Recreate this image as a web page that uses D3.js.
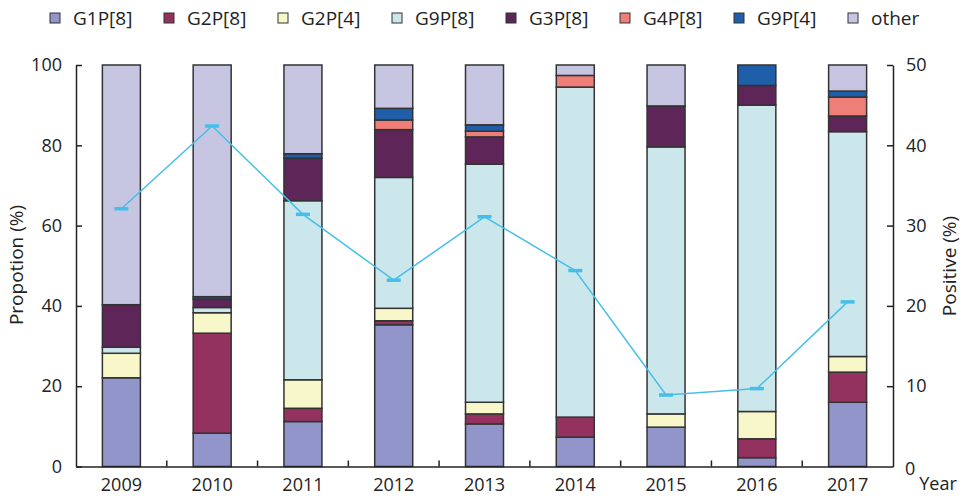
<!DOCTYPE html>
<html>
<head>
<meta charset="utf-8">
<script src="https://cdn.jsdelivr.net/npm/d3@7"></script>
<style>
  body { margin: 0; background: #fff; }
  text { font-family: "Open Sans", "DejaVu Sans", sans-serif; fill: #222; }
</style>
</head>
<body>
<svg width="961" height="497"></svg>
<script>
var years = ["2009", "2010", "2011", "2012", "2013", "2014", "2015", "2016", "2017"];
var genotypes = ["G1P[8]", "G2P[8]", "G2P[4]", "G9P[8]", "G3P[8]", "G4P[8]", "G9P[4]", "other"];
var colors = ["#9195c9", "#93325e", "#f8f7c9", "#cce7ec", "#5d2558", "#ef7d78", "#1f5faa", "#c7c6e2"];

// proportion (%) of each genotype per year
var g1p8  = [22.1, 8.3, 11.2, 35.3, 10.6, 7.3, 9.8, 2.2, 16.0];
var g2p8  = [0, 24.9, 3.3, 1.0, 2.5, 5.0, 0, 4.7, 7.5];
var g2p4  = [6.1, 5.1, 7.1, 3.1, 2.9, 0, 3.3, 6.8, 3.9];
var g9p8  = [1.5, 1.3, 44.6, 32.6, 59.3, 82.2, 66.5, 76.3, 56.0];
var g3p8  = [10.6, 2.1, 10.6, 11.9, 6.8, 0, 10.2, 4.9, 3.9];
var g4p8  = [0, 0, 0, 2.4, 1.4, 2.9, 0, 0, 4.7];
var g9p4  = [0, 0.6, 1.1, 2.9, 1.6, 0, 0, 5.1, 1.5];
var other = [59.7, 57.7, 22.1, 10.8, 14.9, 2.6, 10.2, 0, 6.5];

// positive rate (%) per year
var positive = [32.1, 42.4, 31.4, 23.2, 31.1, 24.4, 8.9, 9.7, 20.5];

var seriesValues = [g1p8, g2p8, g2p4, g9p8, g3p8, g4p8, g9p4, other];

var rows = years.map(function(yr, i) {
  var r = { year: yr };
  genotypes.forEach(function(g, k) { r[g] = seriesValues[k][i]; });
  return r;
});

var svg = d3.select("svg");
var plotLeft = 76, plotRight = 893, plotTop = 65, plotBottom = 466.5;

var x = d3.scaleBand().domain(years).range([plotLeft, plotRight]);
var y = d3.scaleLinear().domain([0, 100]).range([plotBottom, plotTop]);
var y2 = d3.scaleLinear().domain([0, 50]).range([plotBottom, plotTop]);
var barW = 38;

var stacked = d3.stack().keys(genotypes)(rows);

svg.append("g").selectAll("g")
  .data(stacked)
  .enter().append("g")
    .attr("fill", function(d, i) { return colors[i]; })
  .selectAll("rect")
  .data(function(d) { return d.filter(function(s) { return s[1] - s[0] > 0; }); })
  .enter().append("rect")
    .attr("x", function(d) { return x(d.data.year) + x.bandwidth() / 2 - barW / 2; })
    .attr("y", function(d) { return y(d[1]); })
    .attr("width", barW)
    .attr("height", function(d) { return y(d[0]) - y(d[1]); })
    .attr("stroke", "#333")
    .attr("stroke-width", 1.5);

// axes
var axisColor = "#222";
var leftAxis = svg.append("g")
  .attr("transform", "translate(" + plotLeft + ",0)")
  .call(d3.axisLeft(y).tickValues([0, 20, 40, 60, 80, 100]).tickSizeInner(-6).tickSizeOuter(0).tickPadding(14));

var rightAxis = svg.append("g")
  .attr("transform", "translate(" + plotRight + ",0)")
  .call(d3.axisRight(y2).tickValues([10, 20, 30, 40, 50]).tickSizeInner(-6).tickSizeOuter(0).tickPadding(13));

var bottomAxis = svg.append("g")
  .attr("transform", "translate(0," + plotBottom + ")")
  .call(d3.axisBottom(x).tickSize(0).tickPadding(12));

[leftAxis, rightAxis, bottomAxis].forEach(function(a) {
  a.select(".domain").attr("stroke", axisColor).attr("stroke-width", 1.5);
  a.selectAll(".tick line").attr("stroke", axisColor).attr("stroke-width", 1.5);
  a.selectAll("text").attr("font-size", 18).attr("font-family", "Open Sans").attr("fill", "#222");
});

// small upward ticks between the bars
svg.append("g").selectAll("line")
  .data(years.slice(1))
  .enter().append("line")
    .attr("x1", function(d) { return x(d); })
    .attr("x2", function(d) { return x(d); })
    .attr("y1", plotBottom)
    .attr("y2", plotBottom - 6)
    .attr("stroke", axisColor)
    .attr("stroke-width", 1.5);

// 0 label on right axis and Year
svg.append("text").attr("x", 905).attr("y", 475).attr("font-size", 18).text("0");
svg.append("text").attr("x", 938).attr("y", 490).attr("font-size", 18).attr("text-anchor", "middle").text("Year");

// axis titles
svg.append("text")
  .attr("transform", "translate(23,265) rotate(-90)")
  .attr("text-anchor", "middle")
  .attr("font-size", 19)
  .text("Propotion (%)");
svg.append("text")
  .attr("transform", "translate(956,266) rotate(-90)")
  .attr("text-anchor", "middle")
  .attr("font-size", 19)
  .text("Positive (%)");

// positive line
var lineColor = "#45bfea";
var cx = function(d, i) { return x(years[i]) + x.bandwidth() / 2; };
svg.append("path")
  .datum(positive)
  .attr("fill", "none")
  .attr("stroke", lineColor)
  .attr("stroke-width", 1.5)
  .attr("d", d3.line().x(cx).y(function(d) { return y2(d); }));

svg.append("g").selectAll("line")
  .data(positive)
  .enter().append("line")
    .attr("x1", function(d, i) { return cx(d, i) - 7; })
    .attr("x2", function(d, i) { return cx(d, i) + 7; })
    .attr("y1", function(d) { return y2(d); })
    .attr("y2", function(d) { return y2(d); })
    .attr("stroke", lineColor)
    .attr("stroke-width", 3.5);

// legend
var legend = svg.append("g").selectAll("g")
  .data(genotypes)
  .enter().append("g")
    .attr("transform", function(d, i) { return "translate(" + (50 + i * 114) + ",13)"; });
legend.append("rect")
  .attr("width", 10).attr("height", 10)
  .attr("fill", function(d, i) { return colors[i]; })
  .attr("stroke", "#333").attr("stroke-width", 1);
legend.append("text")
  .attr("x", 23).attr("y", 12)
  .attr("font-size", 19)
  .text(function(d) { return d; });
</script>
</body>
</html>
